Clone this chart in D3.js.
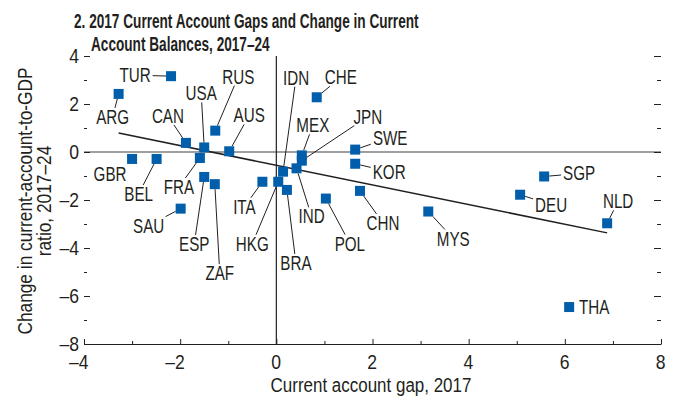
<!DOCTYPE html>
<html>
<head>
<meta charset="utf-8">
<script src="https://cdn.jsdelivr.net/npm/d3@7"></script>
<style>
  body { margin: 0; background: #fff; }
  text { font-family: "Liberation Sans Narrow", "Liberation Sans", Arial, sans-serif; fill: #231f20; }
</style>
</head>
<body>
<div id="chart"></div>
<script>
// data
var countries = ["TUR","ARG","USA","RUS","CAN","AUS","IDN","CHE","MEX","JPN","SWE","KOR","GBR","BEL","FRA",
                 "SAU","ESP","ZAF","ITA","HKG","BRA","IND","POL","CHN","MYS","SGP","DEU","NLD","THA"];
var gap2017  = [-2.19,-3.28,-1.50,-1.27,-1.88,-0.98,0.14,0.84,0.53,0.53,1.64,1.64,-3.00,-2.49,-1.59,
                -1.99,-1.50,-1.28,-0.29,0.04,0.22,0.42,1.03,1.74,3.16,5.57,5.07,6.88,6.09];
var caChange = [3.16,2.42,0.19,0.89,0.38,0.03,-0.82,2.28,-0.14,-0.36,0.10,-0.49,-0.29,-0.29,-0.25,
                -2.36,-1.04,-1.34,-1.24,-1.24,-1.58,-0.68,-1.94,-1.62,-2.48,-1.02,-1.78,-2.97,-6.46];
var fitX = [-3.28, 6.88];
var fitY = [0.79, -3.37];
var xTicks = [-4,-2,0,2,4,6,8];
var yTicks = [-8,-6,-4,-2,0,2,4];

// label placement, pixels from the marker: [dx, dy, leader line?]
var labelPos = {
  TUR:[-36,-1,1], ARG:[-6,23,1], USA:[-3,-54,1], RUS:[23,-54,1], CAN:[-18,-27,1], AUS:[20,-36,1],
  IDN:[13,-94,1], CHE:[24,-20,1], MEX:[11,-30,1], JPN:[66,-44,1], SWE:[35,-12,1], KOR:[34,8,1],
  GBR:[-22,15,0], BEL:[-18,35,1], FRA:[-21,29,1], SAU:[-32,17,1], ESP:[-10,67,1], ZAF:[5,89,1],
  ITA:[-18,25,1], HKG:[-26,62,1], BRA:[9,73,1], IND:[15,48,1], POL:[24,45,1], CHN:[23,32,1],
  MYS:[25,27,1], SGP:[35,-3,1], DEU:[31,10,1], NLD:[11,-22,1], THA:[25,0,0]
};

var W = 678, H = 401;
var condensed = 0.76;   // squeeze to mimic the condensed face of the original
var svg = d3.select("#chart").append("svg").attr("width", W).attr("height", H);

var x = d3.scaleLinear().domain([-4, 8]).range([84, 661]);
var y = d3.scaleLinear().domain([-8, 4]).range([344, 56]);
var fmt = function(d){ return d < 0 ? "\u2013" + Math.abs(d) : "" + d; };

// title
var tsx = 0.665;
var title = svg.append("g").attr("transform", "translate(74,0) scale(" + tsx + ",1)");
title.append("text").attr("font-weight", "bold").attr("font-size", 20.5).attr("x", 0).attr("y", 28)
  .text("2. 2017 Current Account Gaps and Change in Current");
title.append("text").attr("font-weight", "bold").attr("font-size", 20.5).attr("x", 17 / tsx).attr("y", 51)
  .text("Account Balances, 2017\u201324");

// zero lines
svg.append("line").attr("x1", x(-4)).attr("x2", x(8)).attr("y1", y(0)).attr("y2", y(0))
  .attr("stroke", "#7f7f7f").attr("stroke-width", 1.4);
svg.append("line").attr("x1", x(0)).attr("x2", x(0)).attr("y1", y(4)).attr("y2", y(-8))
  .attr("stroke", "#231f20").attr("stroke-width", 1.2);

// bottom axis, ticks inward
var bottom = svg.append("g").attr("transform", "translate(0," + y(-8) + ")")
  .call(d3.axisBottom(x).tickValues(d3.range(-4, 9)).tickSize(0).tickFormat(""));
bottom.select(".domain").attr("stroke", "#231f20").attr("stroke-width", 1.2);
bottom.selectAll(".tick line").attr("stroke", "#231f20")
  .attr("y2", function(d){ return d % 2 === 0 ? -5 : -3; });

svg.append("g").selectAll("text").data(xTicks).join("text")
  .attr("transform", function(d){ return "translate(" + (x(d) + 4.6) + ",369) scale(0.9,1)"; })
  .attr("text-anchor", "end").attr("font-size", 19.5).text(fmt);

// left and right ticks, no axis line
var left = svg.append("g").attr("transform", "translate(" + x(-4) + ",0)")
  .call(d3.axisRight(y).tickValues(d3.range(-8, 5)).tickSize(0).tickFormat(""));
left.select(".domain").remove();
left.selectAll(".tick line").attr("stroke", "#231f20")
  .attr("x2", function(d){ return d % 2 === 0 ? 6 : 3; });

var right = svg.append("g").attr("transform", "translate(" + x(8) + ",0)")
  .call(d3.axisLeft(y).tickValues(d3.range(-8, 5)).tickSize(0).tickFormat(""));
right.select(".domain").remove();
right.selectAll(".tick line").attr("stroke", "#231f20")
  .attr("x2", function(d){ return d % 2 === 0 ? -7 : -4; });

svg.append("g").selectAll("text").data(yTicks).join("text")
  .attr("transform", function(d){ return "translate(79," + y(d) + ") scale(0.9,1)"; })
  .attr("dy", "0.35em").attr("text-anchor", "end").attr("font-size", 19.5).text(fmt);

// axis titles
svg.append("text").attr("transform", "translate(371,392) scale(0.87,1)").attr("text-anchor", "middle")
  .attr("font-size", 19.5).text("Current account gap, 2017");
var yt = svg.append("g").attr("transform", "translate(0,201) rotate(-90) scale(0.865,1)");
yt.append("text").attr("x", 0).attr("y", 32).attr("text-anchor", "middle").attr("font-size", 20)
  .text("Change in current-account-to-GDP");
yt.append("text").attr("x", 0).attr("y", 51).attr("text-anchor", "middle").attr("font-size", 20)
  .text("ratio, 2017\u201324");

// fitted line
svg.append("path")
  .attr("d", d3.line().x(function(d){ return x(d[0]); }).y(function(d){ return y(d[1]); })(d3.zip(fitX, fitY)))
  .attr("stroke", "#231f20").attr("stroke-width", 1.5).attr("fill", "none");

var pts = countries.map(function(c, i){ return {name: c, px: x(gap2017[i]), py: y(caChange[i])}; });

// labels
var labels = svg.append("g").selectAll("text").data(pts).join("text")
  .attr("transform", function(d){
    return "translate(" + (d.px + labelPos[d.name][0]) + "," + (d.py + labelPos[d.name][1]) + ") scale(" + condensed + ",1)";
  })
  .attr("dy", "0.35em").attr("text-anchor", "middle").attr("font-size", 20)
  .text(function(d){ return d.name; });

// leader lines from label box edge to marker edge
var leaderG = svg.append("g");
labels.each(function(d){
  var o = labelPos[d.name];
  if (!o[2]) return;
  var hw = this.getBBox().width * condensed / 2 + 2, hh = 9;
  var cx = d.px + o[0], cy = d.py + o[1];
  var dx = d.px - cx, dy = d.py - cy;
  var t1 = Math.min(dx ? hw / Math.abs(dx) : 1e9, dy ? hh / Math.abs(dy) : 1e9);
  var t2 = Math.min(dx ? 5 / Math.abs(dx) : 1e9, dy ? 5 / Math.abs(dy) : 1e9);
  leaderG.append("line")
    .attr("x1", cx + dx * t1).attr("y1", cy + dy * t1)
    .attr("x2", d.px - dx * t2).attr("y2", d.py - dy * t2)
    .attr("stroke", "#231f20").attr("stroke-width", 1);
});

// markers
svg.append("g").selectAll("rect").data(pts).join("rect")
  .attr("x", function(d){ return d.px - 5; }).attr("y", function(d){ return d.py - 5; })
  .attr("width", 10).attr("height", 10).attr("fill", "#005eaa");
</script>
</body>
</html>
